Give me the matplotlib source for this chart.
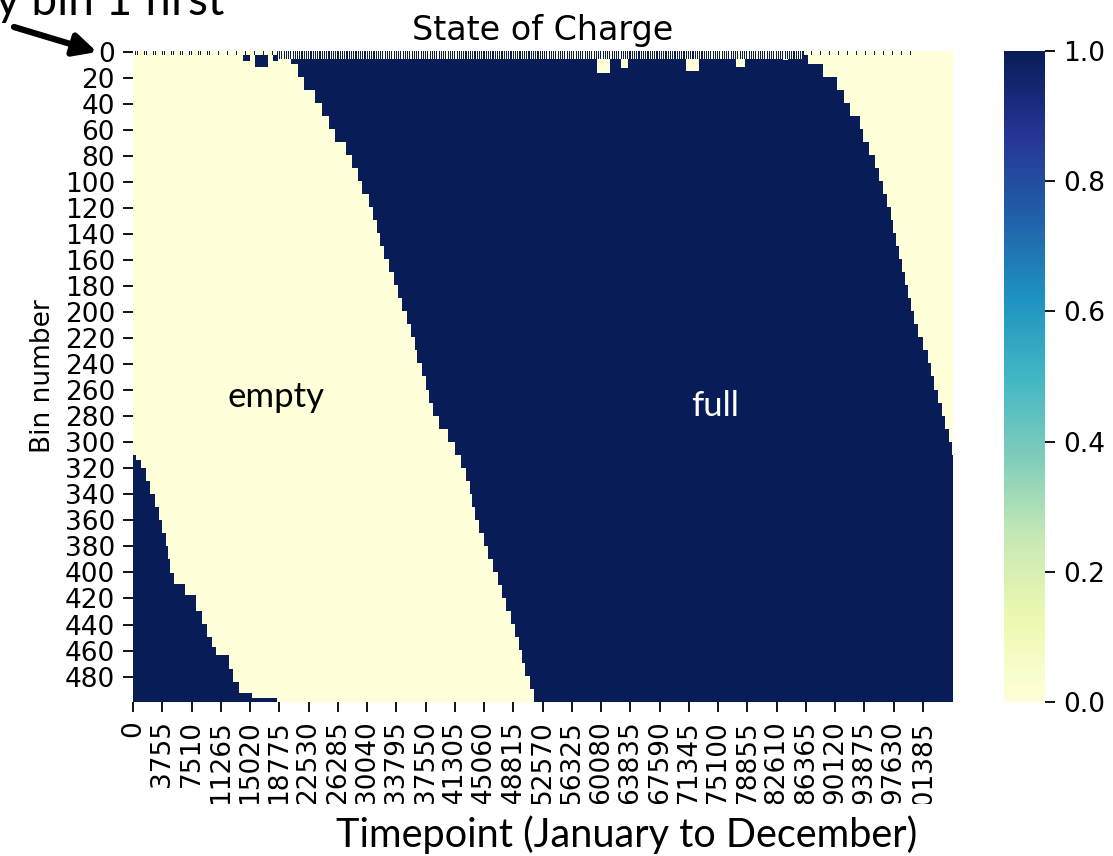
import numpy as np
import matplotlib
matplotlib.use("Agg")
import matplotlib.pyplot as plt
from matplotlib.patches import Rectangle

# heatmap shape: 500 bins x one year of 5-minute timepoints
n_bins = 500
n_time = 105120
block = 10  # bins per step in the boundary lists below

# timepoint at which each block of 10 bins becomes full (bins 0..499)
fill_time = [20300, 21200, 21900, 23360, 24200, 25150, 25900, 27300, 28100, 28800,
             29400, 30200, 30800, 31250, 31700, 32200, 32800, 33400, 33950, 34480,
             35100, 35700, 36100, 36450, 37000, 37550, 38000, 38480, 39300, 40400,
             41300, 42000, 42650, 43200, 43500, 43800, 44400, 45000, 45550, 46200,
             46750, 47250, 47800, 48400, 49000, 49500, 49900, 50300, 50850, 51450]

# timepoint at which each block of 10 bins empties again (bins 0..309)
drain_time = [86500, 88400, 90300, 91150, 91950, 93150, 93600, 94300, 95100, 95650,
              96100, 96600, 97150, 97500, 97800, 98200, 98600, 98950, 99350, 99700,
              100150, 100650, 101300, 101900, 102350, 102750, 103200, 103650, 104100,
              104650, 105000]

# bins 310+ start the year full and empty at these timepoints
early_rows = [310, 314, 320, 330, 340, 350, 360, 370, 380, 390, 401,
              409, 418, 430, 440, 450, 458, 464, 475, 485, 493, 497]
early_time = [385, 1030, 1670, 2180, 2820, 3340, 3720, 4170, 4490, 4810, 5260,
              6670, 8090, 8860, 9500, 10140, 10650, 12320, 12840, 13600, 15270, 18480]

# top bins cycle daily: segment start, depth in bins, share of the day full
cycle_start = [0, 18500, 86000]
cycle_end = [18500, 86000, n_time]
cycle_depth = [3, 6, 3]
cycle_share = [0.15, 0.5, 0.12]
day_len = 288

# short white dips inside the full region: start, end, depth (bins)
dip_start = [59500, 62600, 70900, 77300, 83300]
dip_end = [61200, 63400, 72500, 78500, 84000]
dip_depth = [17, 13, 15, 12, 7]

# short dark fills inside the empty region
bump_start = [14100, 15600, 17900, 19100]
bump_end = [15000, 17300, 18600, 19800]
bump_depth = [8, 12, 8, 6]

xtick_step = 3755
ytick_step = 20

# build the matrix on a 2-hour grid
step = 24
t = np.arange(0, n_time, step) + step / 2
fill_per_bin = np.repeat(fill_time, block)
drain_per_bin = np.concatenate([np.repeat(drain_time, block),
                                np.full(n_bins - len(drain_time) * block, n_time)])
early_per_bin = np.zeros(n_bins)
early_per_bin[early_rows[0]:] = np.repeat(early_time, np.diff(early_rows + [n_bins]))

soc = ((t[None, :] >= fill_per_bin[:, None]) & (t[None, :] < drain_per_bin[:, None])) \
    | (t[None, :] < early_per_bin[:, None])
soc = soc.astype(float)

for s, e, d in zip(dip_start, dip_end, dip_depth):
    soc[:d, (t >= s) & (t < e)] = 0
for s, e, d in zip(bump_start, bump_end, bump_depth):
    soc[2:d, (t >= s) & (t < e)] = 1
for s, e, d, sh in zip(cycle_start, cycle_end, cycle_depth, cycle_share):
    cols = (t >= s) & (t < e)
    soc[:d, cols] = ((t[cols] % day_len) < sh * day_len).astype(float)

fig = plt.figure(figsize=(11.13, 8.56), dpi=100)
ax = fig.add_axes([0.1195, 0.1799, 0.7359, 0.7605])
cax = fig.add_axes([0.902, 0.1799, 0.0368, 0.7605])

im = ax.imshow(soc, cmap="YlGnBu", vmin=0, vmax=1, aspect="auto",
               interpolation="nearest", extent=(0, n_time, n_bins, 0))
for sp in ax.spines.values():
    sp.set_visible(False)

xt = np.arange(0, n_time, xtick_step)
ax.set_xticks(xt + 0.5)
ax.set_xticklabels([str(v) for v in xt], rotation=90, fontsize=19)
yt = np.arange(0, n_bins, ytick_step)
ax.set_yticks(yt + 0.5)
ax.set_yticklabels([str(v) for v in yt], rotation=0, fontsize=19)
ax.tick_params(length=7, width=1.3, pad=6)
ax.set_xlim(0, n_time)
ax.set_ylim(n_bins, 0)
ax.set_ylabel("Bin number", fontsize=19, labelpad=6)
ax.set_title("State of Charge", fontsize=24, pad=8)

cb = fig.colorbar(im, cax=cax, ticks=[0, 0.2, 0.4, 0.6, 0.8, 1.0], format="%.1f")
cb.outline.set_visible(False)
cax.tick_params(labelsize=19, length=7, width=1.3, pad=6)

ax.text(18350, 266, "empty", fontsize=25, family="Lato", ha="center", va="center")
ax.text(74700, 273, "full", fontsize=25, family="Lato", color="white",
        ha="center", va="center")

# the picture is cut below the tick labels; the x title sits on white
fig.add_artist(Rectangle((0, 0), 1, 0.061, transform=fig.transFigure,
                         facecolor="white", edgecolor="none", zorder=5))
fig.text(0.5633, 0.025, "Timepoint (January to December)", fontsize=28.5,
         family="Lato", ha="center", va="center", zorder=6)

# cropped note with arrow at the top left
fig.text(-0.004, 1 - 15 / 856, "y bin 1 first", fontsize=33, family="Lato",
         ha="left", va="baseline")
ax.annotate("", xy=(97, 856 - 52), xytext=(14, 856 - 27), xycoords="figure pixels",
            textcoords="figure pixels", annotation_clip=False,
            arrowprops=dict(arrowstyle="-|>", lw=4.5, color="black",
                            mutation_scale=34, shrinkA=0, shrinkB=0))

fig.savefig("out.png", dpi=100)
